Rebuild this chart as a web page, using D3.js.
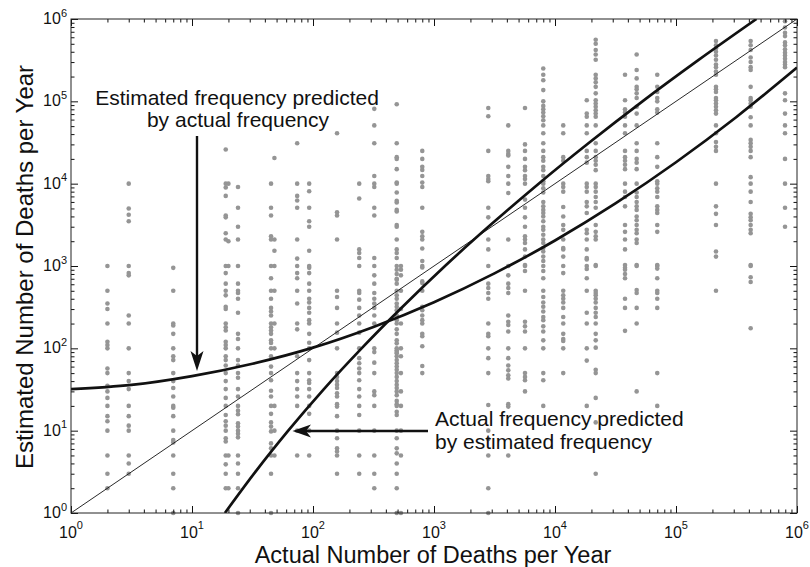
<!DOCTYPE html>
<html>
<head>
<meta charset="utf-8">
<script src="https://cdn.jsdelivr.net/npm/d3@7"></script>
<style>
  html, body { margin: 0; padding: 0; background: #ffffff; }
  svg { display: block; font-family: "Liberation Sans", Arial, Helvetica, sans-serif; }
</style>
</head>
<body>
<svg id="chart" width="810" height="567"></svg>
<script>
// Individual estimates of annual deaths, grouped by the cause's actual annual death count.
const est2 = [1000, 500, 350, 300, 200, 120, 110, 100, 57, 50, 35, 30, 25, 20, 15, 13, 10, 5, 3, 2];
const est3 = [10000, 5000, 4200, 3500, 1000, 820, 770, 250, 200, 100, 50, 40, 32, 20, 15, 11.5, 10, 5, 4, 3];
const est7 = [950, 500, 200, 190, 150, 100, 80, 72, 50, 40, 33, 26, 20, 19, 15, 10, 7.7, 7.2, 5, 3, 2, 1];
const est19 = [26000, 10000, 9000, 7100, 4100, 3900, 2500, 2100, 1000, 820, 610, 500, 440, 320, 300, 200, 180, 165,
               120, 110, 100, 80, 72, 62, 50, 40, 32, 25, 20, 15.5, 13, 11.5, 10, 8.1, 7.4, 5, 3.9, 3, 2];
const est20 = [10000, 2000, 1000, 5, 2];
const est24 = [9100, 5100, 3000, 2100, 1000, 610, 500, 470, 400, 270, 150, 130, 100, 72, 62, 50, 44, 32, 26, 20,
               17.5, 15.8, 12.3, 11.2, 10, 9.2, 8.3, 5, 4, 3, 2, 1];
const est45 = [10000, 5100, 4100, 2300, 2100, 1000, 710, 500, 400, 310, 280, 250, 200, 180, 165, 150, 125, 116, 100,
               80, 60, 50, 41, 30.5, 26, 20, 16, 12.6, 11.2, 9.8, 7, 6.1, 5, 3, 1];
const est48 = [20500, 2100, 1530, 1000, 500, 200, 100, 20, 10, 5];
const est74 = [31000, 10000, 7100, 6250, 5100, 2100, 1230, 1000, 820, 710, 500, 350, 200, 170, 80, 50, 40, 32, 26, 20, 10, 5];
const est93 = [10000, 8100, 5100, 3500, 3000, 1530, 1000, 950, 820, 610, 500, 400, 360, 310, 270, 220, 200, 150, 117,
               100, 72, 50, 41, 38, 32, 26, 20, 16, 10, 5];
const est158 = [41000, 4500, 4100, 2100, 500, 420, 310, 200, 155, 100, 50, 45, 40, 36, 33, 28.5, 26, 21, 19.6, 15, 10,
                8.1, 6.1, 5.6, 5, 3];
const est241 = [10000, 6600, 1590, 1440, 1250, 1000, 500, 470, 390, 310, 250, 200, 155, 100, 76, 66, 57, 50, 41, 32,
                26, 20, 15.5, 10, 5, 3];
const est321 = [81000, 51000, 31000, 12400, 10000, 9100, 5100, 4100, 1250, 1000, 770, 610, 470, 400, 350, 310, 250,
                200, 100, 90, 67, 50, 30, 27, 20, 10, 5, 3, 2];
const est492 = [92000, 31000, 21000, 20000, 15000, 10300, 10000, 7800, 6200, 5900, 4800, 4600, 3150, 3000, 2100, 1590,
                1440, 1250, 1000, 900, 800, 700, 680, 610, 500, 440, 400, 350, 320, 290, 250, 220, 200, 170, 150, 125,
                115, 100, 95, 90, 87, 80, 72, 66, 60, 55, 50, 45, 40, 36, 33, 30, 27, 23, 21, 20, 17, 15.5, 10, 8.1,
                6.1, 5.3, 4, 3, 2, 1];
const est533 = [1000, 900, 770, 500, 300, 200, 100, 80, 50, 30, 20, 10, 5, 1];
const est800 = [25000, 20000, 16000, 14700, 12400, 10300, 9100, 5100, 2600, 2300, 2100, 1630, 1150, 1000, 960, 650,
                620, 500, 320, 290, 250, 220, 200, 150, 140, 106, 61, 50];
const est2810 = [83000, 66000, 25000, 12400, 11400, 10700, 5100, 3900, 2100, 1590, 1000, 610, 540, 470, 400, 200, 150,
                 140, 100, 76, 50, 20.5, 10, 7.9, 5, 2, 1];
const est4110 = [51000, 25000, 23000, 22000, 16000, 12400, 10000, 7700, 2100, 1000, 770, 610, 540, 470, 250, 210, 192,
                 160, 100, 76, 62, 54, 47, 43, 21, 19.6, 5];
const est5650 = [83000, 30000, 25000, 20000, 16000, 14600, 12400, 11400, 10000, 6400, 5100, 3900, 3000, 2300, 2100,
                 1900, 1590, 1300, 1030, 1000, 870, 500, 210, 185, 160, 100, 50, 45, 41, 30];
const est8000 = [250000, 210000, 180000, 137000, 100000, 88000, 80000, 73000, 66000, 59000, 51000, 41000, 31000, 25000,
                 21000, 19000, 16000, 14600, 12400, 10700, 10000, 8800, 7800, 6000, 5300, 4800, 4400, 4000, 3500, 3000,
                 2750, 2400, 2100, 1900, 1650, 1500, 1300, 1150, 1000, 870, 710, 500, 420, 360, 320, 280, 240, 220,
                 185, 160, 125, 100, 50, 41, 20];
const est11700 = [51000, 41000, 21000, 19000, 10000, 9100, 8000, 5200, 4000, 3150, 2750, 2100, 1650, 1590, 1300, 1000,
                  820, 500, 440, 400, 360, 310, 240, 200, 150, 130, 123, 100, 50];
const est18300 = [103000, 71000, 65000, 51000, 41000, 25000, 21000, 18000, 10000, 9100, 8000, 6000, 5300, 4400, 2750,
                  2500, 2100, 1590, 1250, 1200, 1000, 920, 710, 500, 270, 200, 100, 71, 20];
const est21700 = [560000, 500000, 420000, 370000, 320000, 210000, 190000, 170000, 150000, 125000, 103000, 94000, 86000,
                  78000, 71000, 65000, 51000, 31000, 25000, 21000, 19000, 17000, 14600, 10000, 9100, 8000, 6900, 6000,
                  5100, 3150, 2600, 2300, 2100, 1030, 1000, 500, 470, 440, 400, 360, 310, 270, 240, 200, 150, 125,
                  102, 55, 50, 25, 12.6, 3];
const est37900 = [210000, 103000, 80000, 73000, 65000, 51000, 41000, 25000, 21000, 19000, 17000, 15000, 10000, 8000,
                  6900, 5300, 3150, 2600, 2100, 1590, 1030, 950, 900, 800, 710, 400, 310, 163];
const est47300 = [370000, 240000, 190000, 150000, 140000, 125000, 110000, 86000, 71000, 51000, 31000, 25000, 20000,
                  18000, 15000, 10000, 7800, 6900, 6000, 5300, 4800, 4000, 3600, 3150, 2750, 2500, 2100, 1900, 1030,
                  1000, 510, 470, 310, 200, 30];
const est70000 = [210000, 150000, 130000, 110000, 100000, 80000, 73000, 31000, 21000, 16000, 10700, 10000, 8800, 8000,
                  6900, 5300, 4800, 4400, 3150, 2600, 1030, 1000, 930, 710, 500, 470, 400, 310, 50, 20];
const est214000 = [540000, 480000, 440000, 400000, 360000, 320000, 280000, 260000, 230000, 210000, 150000, 140000,
                   130000, 110000, 103000, 94000, 86000, 78000, 71000, 51000, 41000, 32000, 28000, 25000, 10000, 5300,
                   4300, 3150, 1500, 1300, 500];
const est414000 = [540000, 480000, 420000, 340000, 300000, 260000, 240000, 150000, 110000, 103000, 94000, 86000, 64000,
                   51000, 34000, 31000, 28000, 25000, 21000, 12000, 10000, 8000, 6000, 4300, 3900, 3600, 3150, 2750,
                   2500, 1030, 1000, 730, 640, 175];
const est796000 = [940000, 790000, 680000, 620000, 520000, 480000, 430000, 390000, 360000, 330000, 300000, 280000,
                   260000, 125000, 103000, 71000, 51000, 41000, 20000, 10000, 5100, 3000];

const actualDeaths = [2, 3, 7, 19, 20, 24, 45, 48, 74, 93, 158, 241, 321, 492, 533, 800, 2810, 4110, 5650, 8000,
                      11700, 18300, 21700, 37900, 47300, 70000, 214000, 414000, 796000];
const estimateLists = [est2, est3, est7, est19, est20, est24, est45, est48, est74, est93, est158, est241, est321,
                       est492, est533, est800, est2810, est4110, est5650, est8000, est11700, est18300, est21700,
                       est37900, est47300, est70000, est214000, est414000, est796000];

// Fitted curve: mean estimate as a function of actual deaths.
const fitEstActual = [1, 3.16, 10, 31.6, 100, 316, 1000, 3160, 10000, 31600, 100000, 316000, 1000000];
const fitEstValue  = [32, 36, 46, 65, 102, 182, 363, 813, 2040, 5750, 18200, 64600, 257000];
// Fitted curve: actual deaths as a function of the estimate.
const fitActEstimate = [1, 3.16, 10, 31.6, 100, 316, 1000, 3160, 10000, 31600, 100000, 316000, 1000000];
const fitActValue    = [18.7, 33.4, 62.4, 122, 252, 545, 1233, 2938, 7328, 19230, 52840, 152800, 462400];

const majorTicks = [1, 10, 100, 1000, 10000, 100000, 1000000];
const tickExponents = ["0", "1", "2", "3", "4", "5", "6"];
const xTitle = "Actual Number of Deaths per Year";
const yTitle = "Estimated Number of Deaths per Year";
const noteTop = ["Estimated frequency predicted", "by actual frequency"];
const noteBottom = ["Actual frequency predicted", "by estimated frequency"];

// ---------------------------------------------------------------------------
const svg = d3.select("#chart");
const plot = { left: 71, right: 797, top: 19, bottom: 513 };

const x = d3.scaleLog().domain([1, 1e6]).range([plot.left, plot.right]);
const y = d3.scaleLog().domain([1, 1e6]).range([plot.bottom, plot.top]);

const minorTicks = [];
for (let d = 0; d < 6; d++) for (let k = 2; k <= 9; k++) minorTicks.push(k * Math.pow(10, d));

svg.append("rect").attr("width", 810).attr("height", 567).attr("fill", "#ffffff");

svg.append("defs").append("clipPath").attr("id", "plotClip")
  .append("rect")
  .attr("x", plot.left).attr("y", plot.top)
  .attr("width", plot.right - plot.left).attr("height", plot.bottom - plot.top);

// scatter of individual estimates
const points = [];
actualDeaths.forEach((a, i) => estimateLists[i].forEach(e => points.push([a, e])));
svg.append("g")
  .selectAll("circle")
  .data(points)
  .join("circle")
  .attr("cx", d => x(d[0]))
  .attr("cy", d => y(d[1]))
  .attr("r", 2.3)
  .attr("fill", "#959595");

const curves = svg.append("g").attr("clip-path", "url(#plotClip)");

// identity line
curves.append("line")
  .attr("x1", x(1)).attr("y1", y(1))
  .attr("x2", x(1e6)).attr("y2", y(1e6))
  .attr("stroke", "#111").attr("stroke-width", 0.9);

const lineGen = d3.line().x(d => x(d[0])).y(d => y(d[1])).curve(d3.curveMonotoneX);

curves.append("path")
  .attr("d", lineGen(fitEstActual.map((a, i) => [a, fitEstValue[i]])))
  .attr("fill", "none").attr("stroke", "#111").attr("stroke-width", 2.7);

curves.append("path")
  .attr("d", lineGen(fitActEstimate.map((e, i) => [fitActValue[i], e])))
  .attr("fill", "none").attr("stroke", "#111").attr("stroke-width", 2.7);

// axes: inward ticks on all four sides
function drawAxis(axisFn, translate, scale) {
  const gMinor = svg.append("g").attr("transform", translate)
    .call(axisFn(scale).tickValues(minorTicks).tickSize(-3.5).tickSizeOuter(0).tickFormat(""));
  const gMajor = svg.append("g").attr("transform", translate)
    .call(axisFn(scale).tickValues(majorTicks).tickSize(-7).tickSizeOuter(0).tickFormat(""));
  [gMinor, gMajor].forEach(g => {
    g.select(".domain").remove();
    g.selectAll(".tick line").attr("stroke", "#111").attr("stroke-width", 1);
    g.selectAll(".tick text").remove();
  });
}

drawAxis(d3.axisBottom, `translate(0,${plot.bottom})`, x);
drawAxis(d3.axisTop, `translate(0,${plot.top})`, x);
drawAxis(d3.axisLeft, `translate(${plot.left},0)`, y);
drawAxis(d3.axisRight, `translate(${plot.right},0)`, y);

svg.append("rect")
  .attr("x", plot.left).attr("y", plot.top)
  .attr("width", plot.right - plot.left).attr("height", plot.bottom - plot.top)
  .attr("fill", "none").attr("stroke", "#222").attr("stroke-width", 1);

// tick labels written as powers of ten
const xLabels = svg.append("g").attr("font-size", 16).attr("fill", "#111");
majorTicks.forEach((v, i) => {
  const t = xLabels.append("text")
    .attr("x", x(v)).attr("y", plot.bottom + 24.5)
    .attr("text-anchor", "middle");
  t.append("tspan").text("10");
  t.append("tspan").attr("dy", -8.5).attr("font-size", 11).text(tickExponents[i]);
});

const yLabels = svg.append("g").attr("font-size", 16).attr("fill", "#111");
majorTicks.forEach((v, i) => {
  const t = yLabels.append("text")
    .attr("x", plot.left - 4).attr("y", y(v) + 5)
    .attr("text-anchor", "end");
  t.append("tspan").text("10");
  t.append("tspan").attr("dy", -7.5).attr("font-size", 11).text(tickExponents[i]);
});

// axis titles
svg.append("text")
  .attr("x", 433).attr("y", 563)
  .attr("text-anchor", "middle").attr("font-size", 23.5).attr("fill", "#111")
  .text(xTitle);

svg.append("text")
  .attr("transform", "translate(33,267) rotate(-90)")
  .attr("text-anchor", "middle").attr("font-size", 24).attr("fill", "#111")
  .text(yTitle);

// annotations with arrows
const notes = svg.append("g").attr("font-size", 21).attr("fill", "#111");
notes.append("text").attr("x", 237).attr("y", 105).attr("text-anchor", "middle").text(noteTop[0]);
notes.append("text").attr("x", 238).attr("y", 126.7).attr("text-anchor", "middle").text(noteTop[1]);
notes.append("text").attr("x", 435).attr("y", 425.7).text(noteBottom[0]);
notes.append("text").attr("x", 435).attr("y", 448.5).text(noteBottom[1]);

const arrows = svg.append("g");
arrows.append("line")
  .attr("x1", 197).attr("y1", 136).attr("x2", 197).attr("y2", 358)
  .attr("stroke", "#111").attr("stroke-width", 2.4);
arrows.append("path")
  .attr("d", "M197,371 L190.5,351 L197,356 L203.5,351 Z")
  .attr("fill", "#111");
arrows.append("line")
  .attr("x1", 428).attr("y1", 431).attr("x2", 305).attr("y2", 431)
  .attr("stroke", "#111").attr("stroke-width", 2.4);
arrows.append("path")
  .attr("d", "M292.5,431 L311,424.5 L306,431 L311,437.5 Z")
  .attr("fill", "#111");
</script>
</body>
</html>
